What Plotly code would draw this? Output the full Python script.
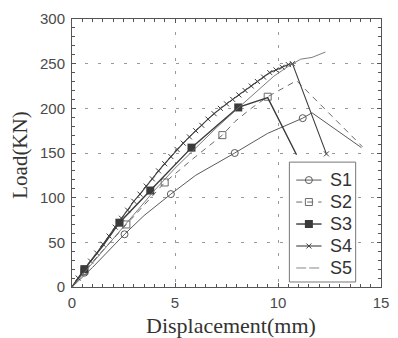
import plotly.graph_objects as go

# ---- data ----
s1_x = [0, 1.0, 2.55, 3.5, 4.8, 6.0, 7.9, 9.5, 11.2, 11.65, 14.05]
s1_y = [0, 22, 59, 80, 104, 125, 150, 172, 189, 195, 156]
s1_mx = [0.6, 2.55, 4.8, 7.9, 11.2]
s1_my = [16, 59, 104, 150, 189]

s2_x = [0, 0.6, 2.64, 4.5, 6.0, 7.3, 7.9, 8.7, 9.5, 10.9, 14.1]
s2_y = [0, 18, 70, 117, 146, 170, 185, 200, 213, 231, 157]
s2_mx = [0.6, 2.64, 4.5, 7.3, 9.5]
s2_my = [18, 70, 117, 170, 213]

s3_x = [0, 0.6, 1.5, 2.3, 3.8, 4.8, 5.8, 7.0, 8.07, 9.5, 10.9]
s3_y = [0, 20, 46, 72, 108, 132, 156, 180, 201, 212, 148]
s3_mx = [0.6, 2.3, 3.8, 5.8, 8.07]
s3_my = [20, 72, 108, 156, 201]

s4_x = [0, 0.3, 0.6, 0.9, 1.2, 1.5, 1.8, 2.1, 2.4, 2.7, 3.0, 3.3, 3.6, 3.9,
        4.2, 4.5, 4.8, 5.1, 5.4, 5.7, 6.0, 6.3, 6.6, 6.9, 7.2, 7.5, 7.8,
        8.1, 8.4, 8.7, 9.0, 9.3, 9.6, 9.9, 10.2, 10.5, 10.7, 12.35]
s4_y = [0, 10, 20, 29, 38, 48, 57, 67, 77, 86, 96, 104, 113, 121,
        130, 138, 146, 154, 161, 168, 175, 181, 188, 194, 200, 205, 210,
        215, 220, 225, 230, 235, 240, 243, 246, 249, 250, 149]

s5_x = [0, 1.0, 2.0, 3.0, 4.0, 5.0, 6.0, 7.0, 8.0, 9.0, 9.8, 10.5, 11.1, 11.65, 12.3]
s5_y = [0, 27, 54, 82, 108, 133, 156, 178, 199, 220, 236, 247, 255, 257, 263]

names = ["S1", "S2", "S3", "S4", "S5"]
x_ticks = [0, 5, 10, 15]
y_ticks = [0, 50, 100, 150, 200, 250, 300]

# ---- styles ----
lines = [
    dict(color="#5a5a5a", width=1),
    dict(color="#6a6a6a", width=1, dash="6px,5px"),
    dict(color="#3a3a3a", width=1.4),
    dict(color="#3e3e3e", width=1.1),
    dict(color="#7a7a7a", width=0.9, dash="10px,3px"),
]
markers = [
    dict(symbol="circle-open", size=7, color="#5a5a5a", line=dict(width=1)),
    dict(symbol="square-open", size=7, color="#6a6a6a", line=dict(width=1)),
    dict(symbol="square", size=8, color="#3a3a3a"),
    dict(symbol="x-thin", size=5, color="#3e3e3e", line=dict(width=1, color="#3e3e3e")),
    None,
]
s5_line = dict(color="#6e6e6e", width=0.9)

fig = go.Figure()

series = [
    (s1_x, s1_y, s1_mx, s1_my),
    (s2_x, s2_y, s2_mx, s2_my),
    (s3_x, s3_y, s3_mx, s3_my),
    (s4_x, s4_y, s4_x, s4_y),
    (s5_x, s5_y, None, None),
]
for i, (lx, ly, mx, my) in enumerate(series):
    fig.add_trace(go.Scatter(x=lx, y=ly, mode="lines", name=names[i],
                             line=s5_line if i == 4 else lines[i],
                             showlegend=False, hoverinfo="skip"))
    if mx is not None:
        fig.add_trace(go.Scatter(x=mx, y=my, mode="markers", marker=markers[i],
                                 showlegend=False, hoverinfo="skip"))

# ---- legend, drawn on an overlay axis in plot-fraction units ----
LEG_X0, LEG_X1, LEG_Y0, LEG_Y1 = 0.7035, 0.918, 0.0187, 0.466
LEG_ROWS = [0.399, 0.317, 0.235, 0.153, 0.071]
SAMPLE_X = [0.7256, 0.8076]
SAMPLE_MID = 0.7666
TEXT_X = 0.8297

fig.add_trace(go.Scatter(
    x=[LEG_X0, LEG_X1, LEG_X1, LEG_X0, LEG_X0],
    y=[LEG_Y0, LEG_Y0, LEG_Y1, LEG_Y1, LEG_Y0],
    mode="lines", fill="toself", fillcolor="white",
    line=dict(color="#777", width=1), xaxis="x2", yaxis="y2",
    showlegend=False, hoverinfo="skip"))
for i, name in enumerate(names):
    fig.add_trace(go.Scatter(x=SAMPLE_X, y=[LEG_ROWS[i]] * 2, mode="lines",
                             line=lines[i], xaxis="x2", yaxis="y2",
                             showlegend=False, hoverinfo="skip"))
    if markers[i] is not None:
        fig.add_trace(go.Scatter(x=[SAMPLE_MID], y=[LEG_ROWS[i]], mode="markers",
                                 marker=markers[i], xaxis="x2", yaxis="y2",
                                 showlegend=False, hoverinfo="skip"))
    fig.add_annotation(text=name, xref="x2", yref="y2", x=TEXT_X, y=LEG_ROWS[i],
                       xanchor="left", yanchor="middle", showarrow=False,
                       font=dict(family="Liberation Sans, Arial", size=18, color="#333"))

axis_common = dict(
    showline=True, linecolor="#555", linewidth=1, mirror="ticks",
    ticks="inside", ticklen=4, tickcolor="#555", tickwidth=1,
    showgrid=True, gridcolor="#9a9a9a", gridwidth=1, griddash="3px,10px",
    zeroline=False,
    tickfont=dict(family="Liberation Sans, Arial", size=15, color="#4a4a4a"),
)

xaxis = dict(range=[0, 15], tickvals=x_ticks, ticktext=[str(v) for v in x_ticks],
             minor=dict(ticks="inside", ticklen=3, tickcolor="#555", dtick=0.5, showgrid=False),
             ticklabelstandoff=2, **axis_common)
yaxis = dict(range=[0, 300], tickvals=y_ticks, ticktext=[str(v) for v in y_ticks],
             minor=dict(ticks="inside", ticklen=3, tickcolor="#555", dtick=10, showgrid=False),
             ticklabelstandoff=3, **axis_common)

fig.add_annotation(text="Load(KN)", xref="paper", yref="paper", x=-0.168, y=0.49,
                   textangle=-90, showarrow=False, xanchor="center", yanchor="middle",
                   font=dict(family="Liberation Serif, Times New Roman", size=21, color="#333"))
fig.add_annotation(text="Displacement(mm)", xref="paper", yref="paper", x=0.515, y=-0.145,
                   showarrow=False, xanchor="center", yanchor="middle",
                   font=dict(family="Liberation Serif, Times New Roman", size=22, color="#333"))

fig.update_layout(
    width=398, height=338,
    margin=dict(l=72, r=9, t=19, b=51),
    paper_bgcolor="white", plot_bgcolor="white",
    showlegend=False,
    xaxis=xaxis,
    yaxis=yaxis,
    xaxis2=dict(overlaying="x", range=[0, 1], visible=False, fixedrange=True),
    yaxis2=dict(overlaying="y", range=[0, 1], visible=False, fixedrange=True),
)

fig.write_html("out.html", config={"displayModeBar": False},
               post_script="document.body.style.margin='0';document.body.style.overflow='hidden';")
